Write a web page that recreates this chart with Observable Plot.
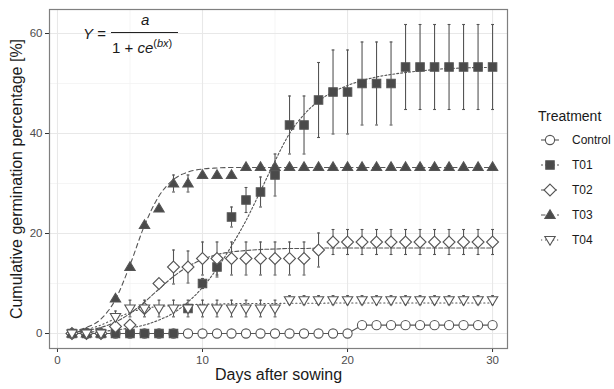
<!DOCTYPE html>
<html><head><meta charset="utf-8">
<script src="https://cdn.jsdelivr.net/npm/d3@7"></script>
<script src="https://cdn.jsdelivr.net/npm/@observablehq/plot@0.6"></script>
<style>
body{margin:0;background:#fff;font-family:"Liberation Sans",Arial,sans-serif;}
#wrap{position:relative;width:614px;height:389px;overflow:hidden;background:#fff}
#wrap svg.main{position:absolute;left:0;top:0}
.abs{position:absolute;line-height:1;white-space:nowrap;color:#1a1a1a}
</style></head><body><div id="wrap"></div>
<script>
// ---------- data ----------
const days = [1,2,3,4,5,6,7,8,9,10,11,12,13,14,15,16,17,18,19,20,21,22,23,24,25,26,27,28,29,30];
const treatments = ["Control","T01","T02","T03","T04"];

const controlY = [0,0,0,0,0,0,0,0,0,0,0,0,0,0,0,0,0,0,0,0,1.67,1.67,1.67,1.67,1.67,1.67,1.67,1.67,1.67,1.67];
const controlErr = [0,0,0,0,0,0,0,0,0,0,0,0,0,0,0,0,0,0,0,0,0,0,0,0,0,0,0,0,0,0];
const t01Y = [0,0,0,0,0,0,0,0,5,10,13.3,23.3,26.7,28.3,31.7,41.7,41.7,46.7,48.3,48.3,50,50,50,53.3,53.3,53.3,53.3,53.3,53.3,53.3];
const t01Err = [0,0,0,0,0,0,0,0,0,1,2,2,2.5,3,4.2,5.8,5.8,7.5,8.4,8.4,8.3,8.3,8.3,8.5,8.5,8.5,8.5,8.5,8.5,8.5];
const t02Y = [0,0,0,1.4,1.7,5,10,13.3,13.3,15,15,15,15,15,15,15,15,16.7,18.3,18.3,18.3,18.3,18.3,18.3,18.3,18.3,18.3,18.3,18.3,18.3];
const t02Err = [0,0,0,0,0,0,0,3.4,3.2,3.3,3.3,3.3,3.3,3.3,3.3,3.3,3.3,3.4,2.5,2.5,2.5,2.5,2.5,2.5,2.5,2.5,2.5,2.5,2.5,2.5];
const t03Y = [0,0,0,7,13.3,21.7,25,30,30,31.7,31.7,31.7,33.3,33.3,33.3,33.3,33.3,33.3,33.3,33.3,33.3,33.3,33.3,33.3,33.3,33.3,33.3,33.3,33.3,33.3];
const t03Err = [0,0,0,0,0,0,0,1.7,1.7,0,0,0,0,0,0,0,0,0,0,0,0,0,0,0,0,0,0,0,0,0];
const t04Y = [0,0,0,3.3,5,5,5,5,5,5,5,5,5,5,5,6.67,6.67,6.67,6.67,6.67,6.67,6.67,6.67,6.67,6.67,6.67,6.67,6.67,6.67,6.67];
const t04Err = [0,0,0,1.2,1.67,1.67,1.67,1.67,1.67,1.67,1.67,1.67,1.67,1.67,1.67,0.9,0.9,0.9,0.9,0.9,0.9,0.9,0.9,0.9,0.9,0.9,0.9,0.9,0.9,0.9];

// fitted logistic curves, values at each day
const controlFit = [0,0,0,0,0,0,0,0,0,0,0,0,0,0,0,0,0,0,0,0,1.67,1.67,1.67,1.67,1.67,1.67,1.67,1.67,1.67,1.67];
const t01Fit = [0.2,0.3,0.4,0.7,1.1,1.7,2.7,4.1,6.3,9.2,13,17.5,22.6,28.5,34.5,40,43.8,46.5,48.3,49.6,50.6,51.3,51.8,52.2,52.5,52.8,53,53.1,53.2,53.2];
const t02Fit = [0.3,0.6,1.2,2.3,4.0,6.3,8.9,11.4,13.4,14.8,15.8,16.3,16.6,16.8,16.9,17,17,17.1,17.1,17.1,17.1,17.1,17.1,17.1,17.1,17.1,17.1,17.1,17.1,17.1];
const t03Fit = [0.5,1.2,2.9,6.8,13.7,21.6,27.5,30.8,32.3,32.9,33.1,33.2,33.2,33.2,33.2,33.2,33.2,33.2,33.2,33.2,33.2,33.2,33.2,33.2,33.2,33.2,33.2,33.2,33.2,33.2];
const t04Fit = [0.3,0.8,1.7,3.0,4.2,5.0,5.4,5.6,5.75,5.85,5.9,5.95,6,6,6,6.05,6.05,6.05,6.1,6.1,6.1,6.1,6.1,6.1,6.1,6.1,6.1,6.1,6.1,6.1];

const xTicks = [0,10,20,30];
const yTicks = [0,20,40,60];
const xMinor = [5,15,25];
const yMinor = [10,30,50];

// ---------- build tables ----------
const seriesY = [controlY,t01Y,t02Y,t03Y,t04Y];
const seriesErr = [controlErr,t01Err,t02Err,t03Err,t04Err];
const seriesFit = [controlFit,t01Fit,t02Fit,t03Fit,t04Fit];
const rows = treatments.flatMap((t,i)=>days.map((d,j)=>({trt:t, day:d, y:seriesY[i][j], err:seriesErr[i][j], fit:seriesFit[i][j]})));
const errRows = rows.filter(d=>d.err>0);

// ---------- symbols ----------
const R = (s)=>Math.sqrt(s/Math.PI);
const symCircle = {draw(c,s){const r=R(s); c.moveTo(r,0); c.arc(0,0,r,0,2*Math.PI); c.closePath();}};
const symSquare = {draw(c,s){const r=R(s)*0.92; c.rect(-r,-r,2*r,2*r);}};
const symDiamond = {draw(c,s){const r=R(s)*1.3; c.moveTo(0,-r); c.lineTo(r,0); c.lineTo(0,r); c.lineTo(-r,0); c.closePath();}};
const symUp = {draw(c,s){const r=R(s)*1.15; c.moveTo(0,-r); c.lineTo(r*0.98,r*0.65); c.lineTo(-r*0.98,r*0.65); c.closePath();}};
const symDown = {draw(c,s){const r=R(s)*1.15; c.moveTo(0,r); c.lineTo(r*0.98,-r*0.65); c.lineTo(-r*0.98,-r*0.65); c.closePath();}};

const dark = "#4a4a4a", ink = "#555555";
const styles = {
  Control:{sym:symCircle, fill:"white", dash:null, curve:"linear"},
  T01:{sym:symSquare, fill:dark, dash:"2,2", curve:"monotone-x"},
  T02:{sym:symDiamond, fill:"white", dash:"4,2", curve:"monotone-x"},
  T03:{sym:symUp, fill:dark, dash:"4.5,3.5", curve:"monotone-x"},
  T04:{sym:symDown, fill:"white", dash:"1.2,2.8", curve:"monotone-x"}
};
const dotR = 4.6;

const marks = [
  Plot.ruleX(xMinor,{stroke:"#f2f2f2",strokeWidth:0.8}),
  Plot.ruleY(yMinor,{stroke:"#f2f2f2",strokeWidth:0.8}),
  Plot.ruleX(xTicks,{stroke:"#e8e8e8",strokeWidth:1.1}),
  Plot.ruleY(yTicks,{stroke:"#e8e8e8",strokeWidth:1.1}),
  Plot.ruleX(errRows,{x:"day",y1:d=>d.y-d.err,y2:d=>d.y+d.err,stroke:ink,strokeWidth:1.1}),
  Plot.link(errRows,{x1:d=>d.day-0.1,x2:d=>d.day+0.1,y1:d=>d.y+d.err,y2:d=>d.y+d.err,stroke:ink,strokeWidth:1.1}),
  Plot.link(errRows,{x1:d=>d.day-0.1,x2:d=>d.day+0.1,y1:d=>d.y-d.err,y2:d=>d.y-d.err,stroke:ink,strokeWidth:1.1}),
];
for (const t of treatments){
  const st = styles[t];
  marks.push(Plot.line(rows.filter(d=>d.trt===t),{x:"day",y:"fit",stroke:ink,strokeWidth:1.1,strokeDasharray:st.dash||undefined,curve:st.curve}));
}
for (const t of treatments){
  const st = styles[t];
  marks.push(Plot.dot(rows.filter(d=>d.trt===t),{x:"day",y:"y",r:dotR,symbol:st.sym,fill:st.fill,stroke:ink,strokeWidth:1.1}));
}
marks.push(
  Plot.axisX(xTicks,{tickSize:4,tickPadding:3,fontSize:11.5,color:"#4d4d4d",stroke:"#333",label:null}),
  Plot.axisY(yTicks,{tickSize:4,tickPadding:3,fontSize:11.5,color:"#4d4d4d",stroke:"#333",label:null}),
  Plot.text(["Days after sowing"],{frameAnchor:"bottom",dy:31,fontSize:16,fill:"#1a1a1a"}),
  Plot.text(["Cumulative germination percentage [%]"],{frameAnchor:"left",textAnchor:"middle",dx:-33,rotate:-90,fontSize:16,fill:"#1a1a1a"}),
  Plot.frame({stroke:"#7f7f7f",strokeWidth:1.2})
);

const chart = Plot.plot({
  width:614, height:389,
  marginLeft:49, marginRight:107, marginTop:9, marginBottom:41,
  style:{fontFamily:'"Liberation Sans", Arial, sans-serif', background:"white"},
  x:{domain:[-0.55,31.03], label:null},
  y:{domain:[-3.0,64.8], label:null},
  marks
});
chart.classList.add("main");
const wrap = document.getElementById("wrap");
wrap.appendChild(chart);

// ---------- formula annotation ----------
function addDiv(html, css){const d=document.createElement("div"); d.className="abs"; d.innerHTML=html; Object.assign(d.style, css); wrap.appendChild(d); return d;}
addDiv('<i>Y</i> =',{left:"83px",top:"26px",fontSize:"15px"});
addDiv('',{left:"111px",top:"32px",width:"67px",height:"1.3px",background:"#222"});
addDiv('<i>a</i>',{left:"141px",top:"12px",fontSize:"15px"});
addDiv('1 + <i>ce</i><span style="font-size:11px;position:relative;top:-6px">(<i>bx</i>)</span>',{left:"112px",top:"40px",fontSize:"15px"});

// ---------- legend ----------
addDiv('Treatment',{left:"538px",top:"109px",fontSize:"14px"});
treatments.forEach((t,i)=>{
  const st = styles[t];
  const cy = 140 + 25*i;
  const p = d3.path(); st.sym.draw(p, dotR*dotR*Math.PI);
  const svg = `<svg width="22" height="16" style="position:absolute;left:539px;top:${cy-8}px;overflow:visible">
    <line x1="2" x2="20" y1="8" y2="8" stroke="${ink}" stroke-width="1.1" ${st.dash?`stroke-dasharray="${st.dash}"`:""}/>
    <path transform="translate(11,8)" d="${p.toString()}" fill="${st.fill}" stroke="${ink}" stroke-width="1.1"/></svg>`;
  const holder = document.createElement("div"); holder.innerHTML = svg; wrap.appendChild(holder.firstElementChild);
  addDiv(t,{left:"572px",top:(cy-6)+"px",fontSize:"12px"});
});
</script></body></html>
